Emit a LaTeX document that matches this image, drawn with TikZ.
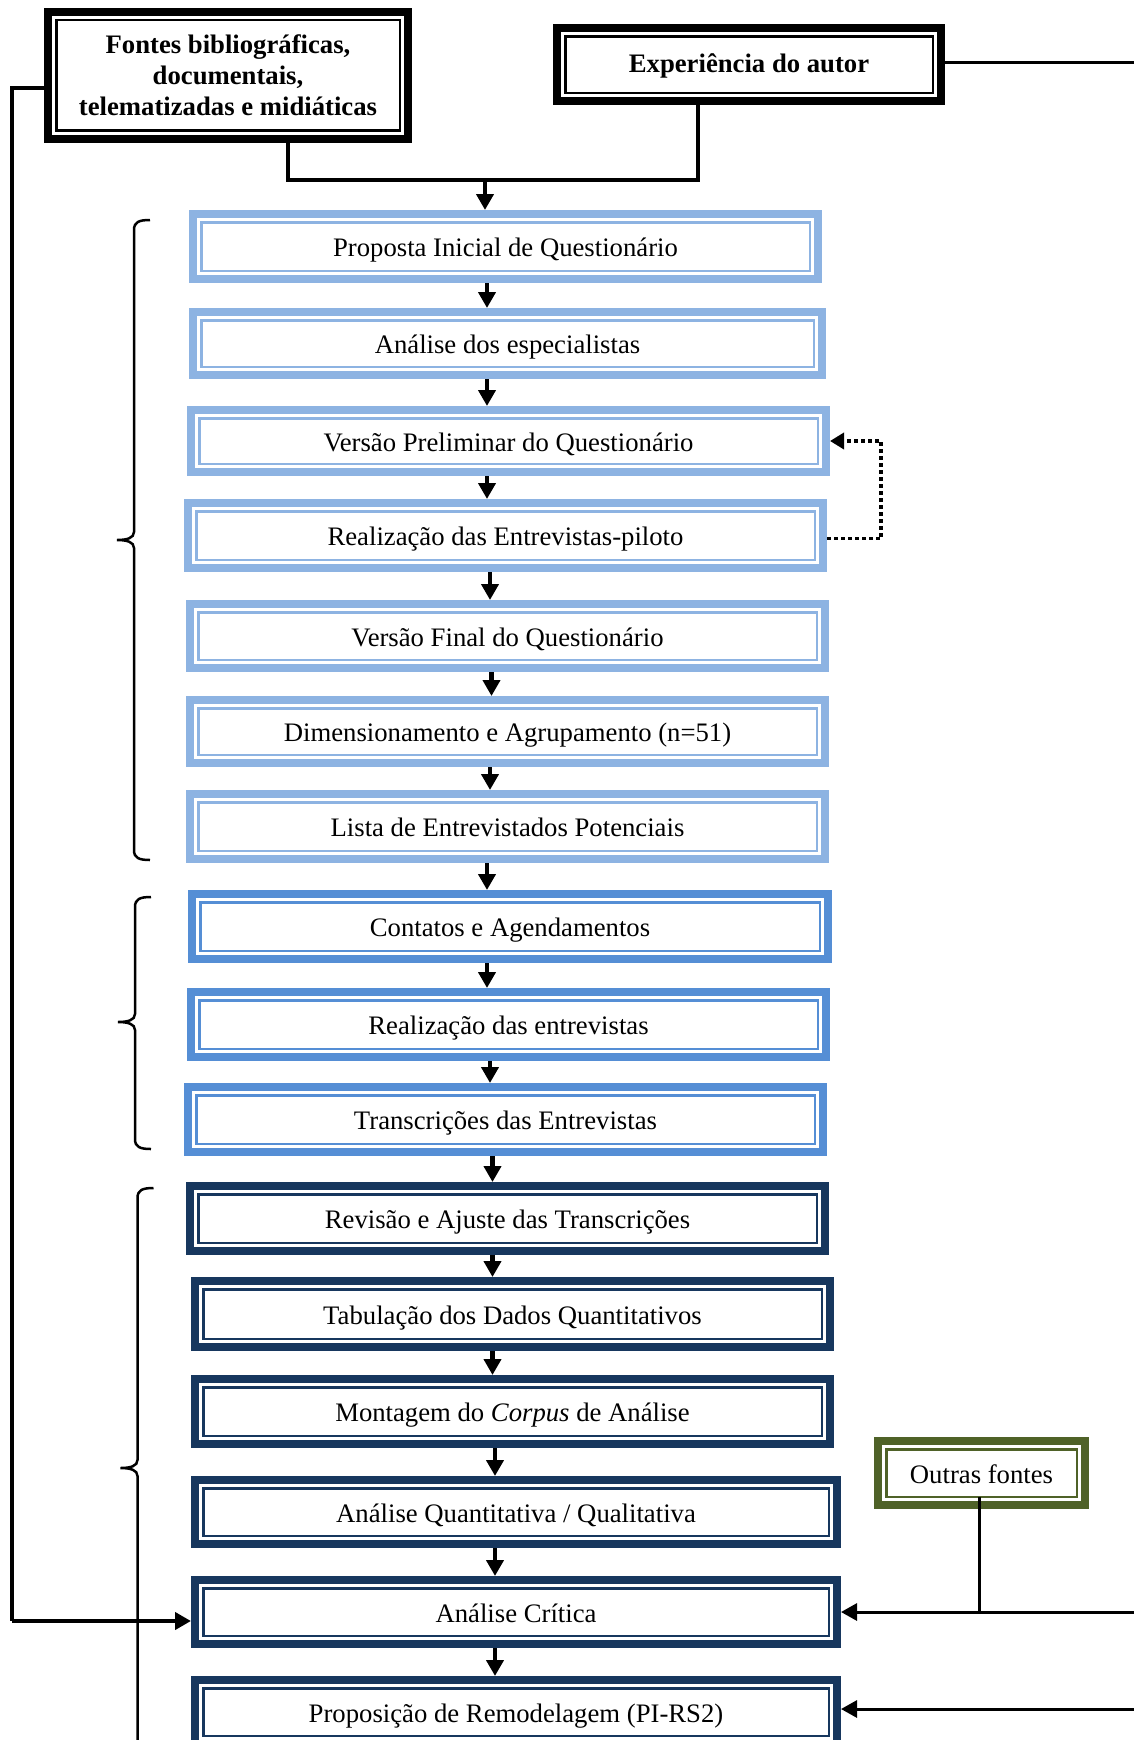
\documentclass[tikz,border=0pt]{standalone}
\usepackage{fontspec}
\setmainfont{Liberation Serif}
\usetikzlibrary{arrows.meta}

\definecolor{lightblue}{HTML}{8DB3E2}
\definecolor{midblue}{HTML}{558ED5}
\definecolor{navy}{HTML}{17375E}
\definecolor{olive}{HTML}{4F6228}

% curly bracket: spine x, top y, tip y, bottom y
\newcommand\groupbrace[4]{%
  \draw[bracket] (#1+16,#2) .. controls (#1+5,#2) and (#1,#2+2) .. (#1,#2+10)
    -- (#1,#3-8) .. controls (#1,#3-2) and (#1-7,#3) .. (#1-17,#3)
    .. controls (#1-7,#3) and (#1,#3+2) .. (#1,#3+8)
    -- (#1,#4-10) .. controls (#1,#4-2) and (#1+5,#4) .. (#1+16,#4);}

\tikzset{
  % thick outer band, white gap, thin inner rule
  framebox/.style={draw=#1, line width=8pt, inner sep=0pt, align=center,
    font=\fontsize{26.7pt}{31pt}\selectfont,
    path picture={\draw[#1, line width=2.5pt]
      ([shift={(8.25pt,-8.25pt)}]path picture bounding box.north west) rectangle
      ([shift={(-8.25pt,8.25pt)}]path picture bounding box.south east);}},
  oneline/.style={text height=20pt, text depth=0pt},
  pale/.style={framebox=lightblue, oneline},
  mid/.style={framebox=midblue, oneline},
  deep/.style={framebox=navy, oneline},
  sizes/.style n args={2}{minimum width=#1pt, minimum height=#2pt},
  arr/.style={line width=4.5pt, -{Triangle[width=17pt,length=16pt]}},
  conn/.style={line width=4pt},
  feed/.style={line width=3pt},
  dotted loop/.style={line width=3.5pt, dash pattern=on 3.5pt off 3.5pt,
    -{Triangle[width=16pt,length=14pt]}},
  bracket/.style={line width=2.5pt},
}

\begin{document}
\begin{tikzpicture}[x=1pt,y=-1pt]
\useasboundingbox (0,0) rectangle (1134,1740);
\clip (0,0) rectangle (1134,1740);

% sources
\node[framebox=black, sizes={360}{127}, font=\fontsize{26.7pt}{31pt}\selectfont\bfseries]
  (fontes) at (228,75) {Fontes bibliográficas,\\documentais,\\telematizadas e midiáticas};
\node[framebox=black, sizes={384}{73}, text height=18pt, text depth=3pt,
  font=\fontsize{26.7pt}{31pt}\selectfont\bfseries]
  (exper) at (749,64.5) {Experiência do autor};

% questionnaire stage
\node[pale, sizes={625}{65}] (b1) at (505.5,246.5) {Proposta Inicial de Questionário};
\node[pale, sizes={629}{63}] (b2) at (507.5,343.5) {Análise dos especialistas};
\node[pale, sizes={635}{62}] (b3) at (508.5,441) {Versão Preliminar do Questionário};
\node[pale, sizes={635}{65}] (b4) at (505.5,535.5) {Realização das Entrevistas-piloto};
\node[pale, sizes={635}{64}] (b5) at (507.5,636) {Versão Final do Questionário};
\node[pale, sizes={635}{63}] (b6) at (507.5,731.5) {Dimensionamento e Agrupamento (n=51)};
\node[pale, sizes={635}{65}] (b7) at (507.5,826.5) {Lista de Entrevistados Potenciais};

% interview stage
\node[mid, sizes={636}{65}] (b8) at (510,926.5) {Contatos e Agendamentos};
\node[mid, sizes={635}{65}] (b9) at (508.5,1024.5) {Realização das entrevistas};
\node[mid, sizes={635}{65}] (b10) at (505.5,1119.5) {Transcrições das Entrevistas};

% analysis stage
\node[deep, sizes={635}{65}] (b11) at (507.5,1218.5) {Revisão e Ajuste das Transcrições};
\node[deep, sizes={635}{66}] (b12) at (512.5,1314) {Tabulação dos Dados Quantitativos};
\node[deep, sizes={635}{65}] (b13) at (512.5,1411.5) {Montagem do \textit{Corpus} de Análise};
\node[deep, sizes={642}{64}] (b14) at (516,1512) {Análise Quantitativa / Qualitativa};
\node[deep, sizes={642}{64}] (b15) at (516,1612) {Análise Crítica};
\node[deep, sizes={642}{64}] (b16) at (516,1712) {Proposição de Remodelagem (PI-RS2)};

\node[framebox=olive, oneline, sizes={207}{64}] (outras) at (981.5,1473) {Outras fontes};

% sources merge into the first step
\coordinate (join) at (485,180);
\draw[conn] (288,0 |- fontes.south) |- (join) -| (698,0 |- exper.south);
\draw[arr] (join) -- (485,0 |- b1.north);

% main sequence
\draw[arr] (487,0 |- b1.south) -- (487,0 |- b2.north);
\draw[arr] (487,0 |- b2.south) -- (487,0 |- b3.north);
\draw[arr] (487,0 |- b3.south) -- (487,0 |- b4.north);
\draw[arr] (490,0 |- b4.south) -- (490,0 |- b5.north);
\draw[arr] (491.5,0 |- b5.south) -- (491.5,0 |- b6.north);
\draw[arr] (490,0 |- b6.south) -- (490,0 |- b7.north);
\draw[arr] (487,0 |- b7.south) -- (487,0 |- b8.north);
\draw[arr] (487,0 |- b8.south) -- (487,0 |- b9.north);
\draw[arr] (490,0 |- b9.south) -- (490,0 |- b10.north);
\draw[arr] (492.5,0 |- b10.south) -- (492.5,0 |- b11.north);
\draw[arr] (492.5,0 |- b11.south) -- (492.5,0 |- b12.north);
\draw[arr] (492.5,0 |- b12.south) -- (492.5,0 |- b13.north);
\draw[arr] (495,0 |- b13.south) -- (495,0 |- b14.north);
\draw[arr] (495,0 |- b14.south) -- (495,0 |- b15.north);
\draw[arr] (495,0 |- b15.south) -- (495,0 |- b16.north);

% pilot feedback loop
\draw[dotted loop] ([yshift=-3pt]b4.east) -| (881,441) -- (b3.east);

% long feedback lines
\draw[conn] ([yshift=-13pt]fontes.west) -| (12,1621);
\draw[arr] (12,1621) -- ([yshift=-9pt]b15.west);
\draw[feed] ([yshift=2.5pt]exper.east) -- (1134,62);
\draw[feed] ([xshift=-2.5pt,yshift=12pt]outras.south) -- ([xshift=-2.5pt]outras.south |- b15.east);
\draw[arr, line width=3pt] (1134,0 |- b15.east) -- (b15.east);
\draw[arr, line width=3pt] (1134,1709) -- (1134,1709 -| b16.east);

% stage brackets
\groupbrace{134}{220}{540}{860}
\groupbrace{135}{897}{1022}{1149}
\groupbrace{137.5}{1188}{1468}{1800}
\end{tikzpicture}
\end{document}
